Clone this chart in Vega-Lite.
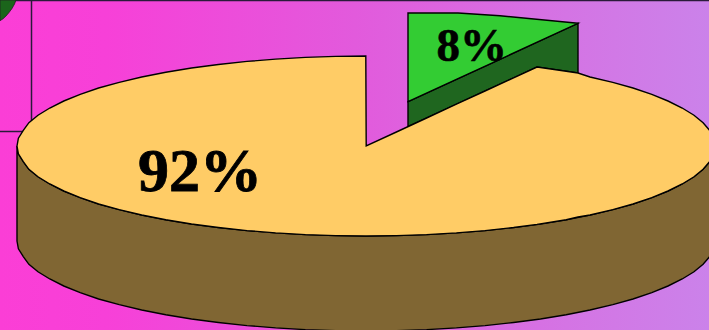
{"$schema":"https://vega.github.io/schema/vega-lite/v6.json","width":709,"height":330,"padding":0,"autosize":"none","config":{"view":{"stroke":null}},
"encoding":{"x":{"field":"x","type":"quantitative","axis":null,"scale":{"domain":[0,709],"nice":false,"zero":false}},"y":{"field":"y","type":"quantitative","axis":null,"scale":{"domain":[330,0],"nice":false,"zero":false}}},
"layer":[
{"data":{"values":[{"x":0,"x2":709,"y":0,"y2":330}]},"mark":{"type":"rect","fill":{"gradient":"linear","x1":0,"x2":1,"y1":0,"y2":0,"stops":[{"offset":0,"color":"#fb3ed6"},{"offset":0.15,"color":"#f740d8"},{"offset":0.5,"color":"#e25adc"},{"offset":0.8,"color":"#d474e4"},{"offset":1,"color":"#cb82ea"}]}},"encoding":{"x2":{"field":"x2"},"y2":{"field":"y2"}}},
{"data":{"values":[{"x":0,"x2":709,"y":0.5,"y2":0.5},{"x":31.5,"x2":31.5,"y":0,"y2":130},{"x":0,"x2":31.5,"y":131.5,"y2":131.5}]},"mark":{"type":"rule","stroke":"#2a1a3a","strokeWidth":1.5},"encoding":{"x2":{"field":"x2"},"y2":{"field":"y2"}}},
{"data":{"values":[{"x":0,"y":0,"y2":20.7},{"x":3,"y":0,"y2":18.8},{"x":6,"y":0,"y2":16},{"x":9,"y":0,"y2":12.5},{"x":12,"y":0,"y2":8.5},{"x":14.5,"y":0,"y2":4},{"x":16,"y":0,"y2":0}]},"mark":{"type":"area","orient":"vertical","fill":"#1b651b","stroke":"#222222","strokeWidth":0.8},"encoding":{"y2":{"field":"y2"}}},
{"data":{"values":[{"x":408,"y":101.7,"y2":126.6},{"x":537,"y":42.2,"y2":67},{"x":578,"y":23.3,"y2":73}]},"mark":{"type":"area","orient":"vertical","fill":"#1f661f","stroke":"#000000","strokeWidth":1.4},"encoding":{"y2":{"field":"y2"}}},
{"data":{"values":[{"x":408,"y":13,"y2":101.7},{"x":458,"y":13,"y2":78.6},{"x":500,"y":15.7,"y2":59.3},{"x":578,"y":23.3,"y2":23.3}]},"mark":{"type":"area","orient":"vertical","fill":"#33cc33","stroke":"#000000","strokeWidth":1.4},"encoding":{"y2":{"field":"y2"}}},
{"data":{"values":[{"x":17,"y":146,"y2":241},{"x":18.4,"y":153.8,"y2":248.8},{"x":23.3,"y":161.6,"y2":256.6},{"x":28.9,"y":169.3,"y2":264.3},{"x":38,"y":176.8,"y2":271.8},{"x":49.8,"y":184,"y2":279},{"x":63.8,"y":191,"y2":286},{"x":80.2,"y":197.6,"y2":292.6},{"x":98.6,"y":204,"y2":299},{"x":119.2,"y":209.6,"y2":304.6},{"x":141.7,"y":215,"y2":310},{"x":165.8,"y":219.7,"y2":314.7},{"x":191.5,"y":224,"y2":319},{"x":218.4,"y":227.5,"y2":322.5},{"x":247,"y":230.6,"y2":325.6},{"x":275.6,"y":232.9,"y2":327.9},{"x":305.4,"y":234.6,"y2":329.6},{"x":335.6,"y":235.6,"y2":330.6},{"x":366,"y":236,"y2":331},{"x":396.4,"y":235.6,"y2":330.6},{"x":426.6,"y":234.6,"y2":329.6},{"x":456.4,"y":232.9,"y2":327.9},{"x":485,"y":230.6,"y2":325.6},{"x":513.6,"y":227.5,"y2":322.5},{"x":540.5,"y":224,"y2":319},{"x":566.2,"y":219.7,"y2":314.7},{"x":590,"y":215,"y2":310},{"x":612.8,"y":209.6,"y2":304.6},{"x":633,"y":204,"y2":299},{"x":651.8,"y":197.6,"y2":292.6},{"x":668,"y":191,"y2":286},{"x":682.2,"y":184,"y2":279},{"x":694,"y":176.8,"y2":271.8},{"x":703.1,"y":169.3,"y2":264.3},{"x":709.7,"y":161.6,"y2":256.6},{"x":713.6,"y":153.8,"y2":248.8},{"x":715,"y":146,"y2":241}]},"mark":{"type":"area","orient":"vertical","fill":"#806633","stroke":"#000000","strokeWidth":1.4,"clip":true},"encoding":{"y2":{"field":"y2"}}},
{"data":{"values":[{"x":17,"y":146,"y2":146},{"x":18.4,"y":138.2,"y2":153.8},{"x":23.3,"y":130.4,"y2":161.6},{"x":28.9,"y":122.7,"y2":169.3},{"x":38,"y":115.2,"y2":176.8},{"x":49.8,"y":108,"y2":184},{"x":63.8,"y":101,"y2":191},{"x":80.2,"y":94.4,"y2":197.6},{"x":98.6,"y":88,"y2":204},{"x":119.2,"y":82.4,"y2":209.6},{"x":141.7,"y":77,"y2":215},{"x":165.8,"y":72.3,"y2":219.7},{"x":191.5,"y":68,"y2":224},{"x":218.4,"y":64.5,"y2":227.5},{"x":247,"y":61.4,"y2":230.6},{"x":275.6,"y":59.1,"y2":232.9},{"x":305.4,"y":57.4,"y2":234.6},{"x":335.6,"y":56.4,"y2":235.6},{"x":365.8,"y":56,"y2":236},{"x":366.2,"y":146,"y2":236},{"x":396.4,"y":132,"y2":235.6},{"x":426.6,"y":118,"y2":234.6},{"x":456.4,"y":104.2,"y2":232.9},{"x":485,"y":91,"y2":230.6},{"x":513.6,"y":77.8,"y2":227.5},{"x":537,"y":67,"y2":224.4},{"x":566.2,"y":71.3,"y2":219.7},{"x":578,"y":73,"y2":217},{"x":590,"y":77,"y2":215},{"x":612.8,"y":82.4,"y2":209.6},{"x":633,"y":88,"y2":204},{"x":651.8,"y":94.4,"y2":197.6},{"x":668,"y":101,"y2":191},{"x":682.2,"y":108,"y2":184},{"x":694,"y":115.2,"y2":176.8},{"x":703.1,"y":122.7,"y2":169.3},{"x":709.7,"y":130.4,"y2":161.6},{"x":713.6,"y":138.2,"y2":153.8},{"x":715,"y":146,"y2":146}]},"mark":{"type":"area","orient":"vertical","fill":"#ffcc66","stroke":"#000000","strokeWidth":1.4,"clip":true},"encoding":{"y2":{"field":"y2"}}},
{"data":{"values":[{"x":436.5,"y":61,"label":"8%"}]},"mark":{"type":"text","font":"Liberation Serif","fontWeight":"bold","fontSize":47,"align":"left","baseline":"alphabetic","fill":"#000000","stroke":"#000000","strokeWidth":0.6},"encoding":{"text":{"field":"label"}}},
{"data":{"values":[{"x":138,"y":191,"label":"92%"}]},"mark":{"type":"text","font":"Liberation Serif","fontWeight":"bold","fontSize":62,"align":"left","baseline":"alphabetic","fill":"#000000","stroke":"#000000","strokeWidth":0.8},"encoding":{"text":{"field":"label"}}}
]}
